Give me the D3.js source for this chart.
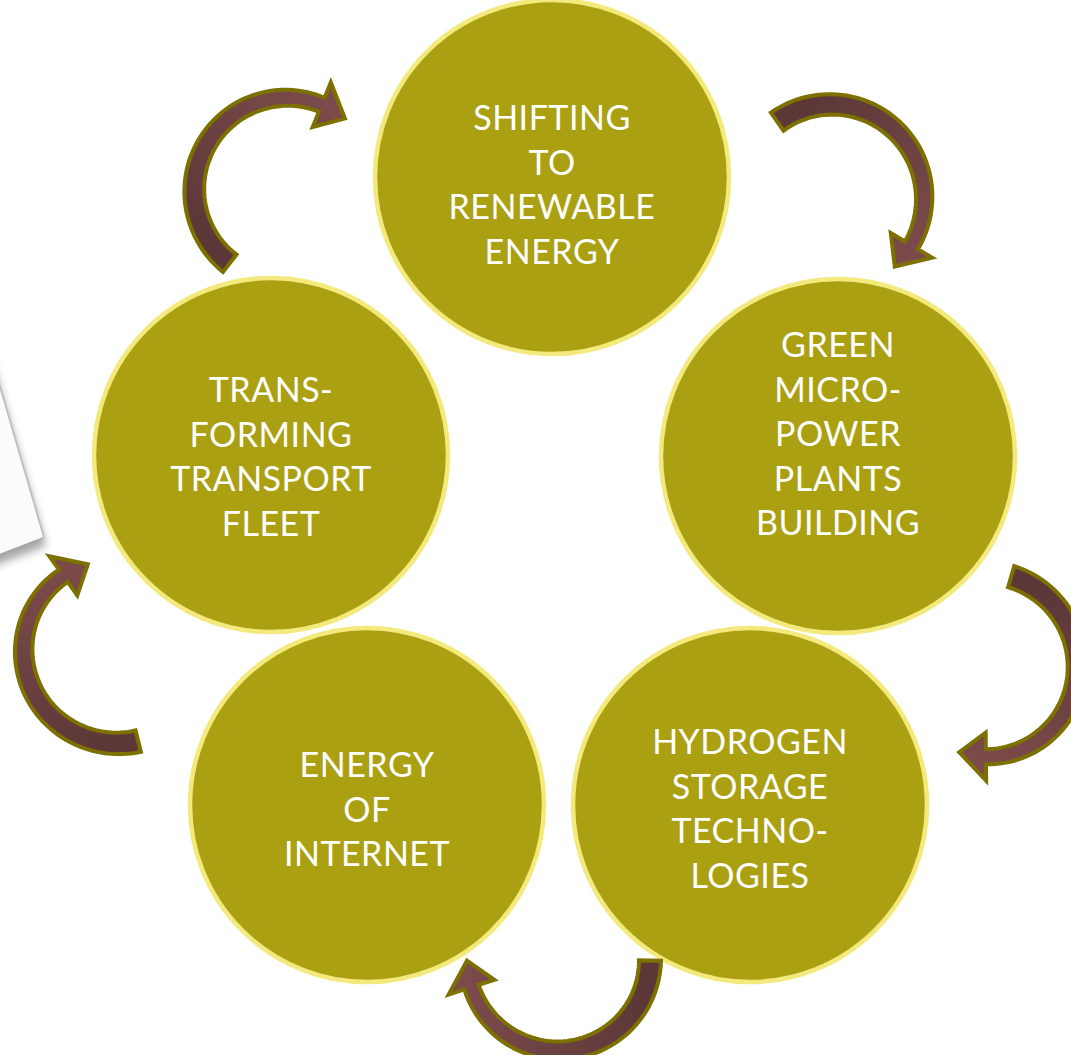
<!DOCTYPE html>
<html>
<head>
<meta charset="utf-8">
<script src="https://cdn.jsdelivr.net/npm/d3@7"></script>
<style>
  html, body { margin: 0; padding: 0; background: #ffffff; }
  svg { display: block; }
</style>
</head>
<body>
<script>
// ---------- data ----------
const stepIds = ["renewable", "microPower", "hydrogen", "internet", "transport"];
const stepLabels = [
  ["SHIFTING", "TO", "RENEWABLE", "ENERGY"],
  ["GREEN", "MICRO-", "POWER", "PLANTS", "BUILDING"],
  ["HYDROGEN", "STORAGE", "TECHNO-", "LOGIES"],
  ["ENERGY", "OF", "INTERNET"],
  ["TRANS-", "FORMING", "TRANSPORT", "FLEET"]
];
// arrows connect step i -> step i+1 (cyclic)
const arrowLinks = [[0, 1], [1, 2], [2, 3], [3, 4], [4, 0]];

// ---------- layout (positions / sizes) ----------
const W = 1071, H = 1055;
const circleLayout = [
  { cx: 552, cy: 177, textY: 130 },
  { cx: 838, cy: 456, textY: 357 },
  { cx: 750, cy: 805, textY: 754 },
  { cx: 367, cy: 805, textY: 777 },
  { cx: 271, cy: 455, textY: 402 }
];
const circleR = 177;
const lineGap = 44.5;
// arrow geometry: centre, tail/tip angle (deg, clockwise from up), tail/tip radius
const arrowLayout = [
  { cx: 287, cy: 190, a0: 218, a1: 399, r0: 93, r1: 92 },   // transport -> renewable
  { cx: 830, cy: 197, a0: -35, a1: 137, r0: 92, r1: 95 },   // renewable -> micro power
  { cx: 985, cy: 668, a0: 16, a1: 197, r0: 95, r1: 88 },    // micro power -> hydrogen
  { cx: 559, cy: 959, a0: 91, a1: 269, r0: 91, r1: 92 },    // hydrogen -> internet
  { cx: 115, cy: 648, a0: 166, a1: 342, r0: 96, r1: 88 }    // internet -> transport
];
const arrowOrderForLink = [1, 2, 3, 4, 0];

const svg = d3.select("body").append("svg")
  .attr("width", W).attr("height", H)
  .attr("viewBox", `0 0 ${W} ${H}`);

const defs = svg.append("defs");
const blur = defs.append("filter").attr("id", "shadowBlur")
  .attr("x", "-50%").attr("y", "-50%").attr("width", "200%").attr("height", "200%");
blur.append("feGaussianBlur").attr("stdDeviation", 4);
const edgeBlur = defs.append("filter").attr("id", "edgeBlur")
  .attr("x", "-50%").attr("y", "-50%").attr("width", "200%").attr("height", "200%");
edgeBlur.append("feGaussianBlur").attr("stdDeviation", 0.8);

// ---------- background paper sheet (partially off-canvas) ----------
const paper = [[-80, 116], [43, 537], [-120, 600]];
const paperLine = d3.line();
svg.append("path")
  .attr("d", paperLine(paper.map(p => [p[0] + 3, p[1] + 9])) + "Z")
  .attr("fill", "#8a8a8a").attr("opacity", 0.75)
  .attr("filter", "url(#shadowBlur)");
svg.append("path")
  .attr("d", paperLine(paper) + "Z")
  .attr("fill", "#fcfcfc")
  .attr("stroke", "#9c9c9c").attr("stroke-width", 2)
  .attr("filter", "url(#edgeBlur)");
svg.append("path")
  .attr("d", paperLine(paper) + "Z")
  .attr("fill", "#fcfcfc");

// ---------- circles ----------
const nodes = stepIds.map((id, i) => ({ id, lines: stepLabels[i], ...circleLayout[i] }));

const g = svg.selectAll("g.step").data(nodes).join("g").attr("class", "step");
g.append("circle")
  .attr("cx", d => d.cx).attr("cy", d => d.cy).attr("r", circleR)
  .attr("fill", "#aba012")
  .attr("stroke", "#f3e97c").attr("stroke-width", 4.5);

g.append("text")
  .attr("text-anchor", "middle")
  .attr("fill", "#ffffff")
  .attr("font-family", "Lato, 'Open Sans', sans-serif")
  .attr("font-size", 34)
  .attr("letter-spacing", 0.5)
  .selectAll("tspan")
  .data(d => d.lines.map((t, k) => ({ t, x: d.cx, y: d.textY + k * lineGap })))
  .join("tspan")
  .attr("x", d => d.x).attr("y", d => d.y)
  .text(d => d.t);

// ---------- curved arrows ----------
const rad = Math.PI / 180;
function arrowPath(A) {
  const headLen = 27, headHalf = 24, w0 = 22, w1 = 15, N = 60;
  const a0 = A.a0 * rad, a1 = A.a1 * rad;
  const rScale = d3.scaleLinear().domain([a0, a1]).range([A.r0, A.r1]);
  const aBase = a1 - headLen / A.r1;
  const wScale = d3.scaleLinear().domain([a0, aBase]).range([w0, w1]);
  const pt = (a, r) => [A.cx + r * Math.sin(a), A.cy - r * Math.cos(a)];
  const angles = d3.range(N + 1).map(i => a0 + (aBase - a0) * i / N);
  const outer = angles.map(a => pt(a, rScale(a) + wScale(a) / 2));
  const inner = angles.map(a => pt(a, rScale(a) - wScale(a) / 2)).reverse();
  const rb = rScale(aBase);
  const head = [pt(aBase, rb + headHalf), pt(a1, A.r1), pt(aBase, rb - headHalf)];
  return d3.line()(outer.concat(head, inner)) + "Z";
}

const arrows = arrowLinks.map((link, i) => ({ from: stepIds[link[0]], to: stepIds[link[1]], geo: arrowLayout[arrowOrderForLink[i]] }));

arrows.forEach((d, i) => {
  const A = d.geo;
  const pt = (a, r) => [A.cx + r * Math.sin(a * rad), A.cy - r * Math.cos(a * rad)];
  const p0 = pt(A.a0, A.r0), p1 = pt(A.a1, A.r1);
  const gid = "arrowGrad" + i;
  const grad = defs.append("linearGradient").attr("id", gid)
    .attr("gradientUnits", "userSpaceOnUse")
    .attr("x1", p0[0]).attr("y1", p0[1]).attr("x2", p1[0]).attr("y2", p1[1]);
  grad.append("stop").attr("offset", "0%").attr("stop-color", "#5c3737");
  grad.append("stop").attr("offset", "100%").attr("stop-color", "#7b4a4a");
  svg.append("path")
    .attr("class", "arrow")
    .attr("d", arrowPath(A))
    .attr("fill", `url(#${gid})`)
    .attr("stroke", "#7c7000").attr("stroke-width", 4)
    .attr("stroke-linejoin", "miter");
});
</script>
</body>
</html>
